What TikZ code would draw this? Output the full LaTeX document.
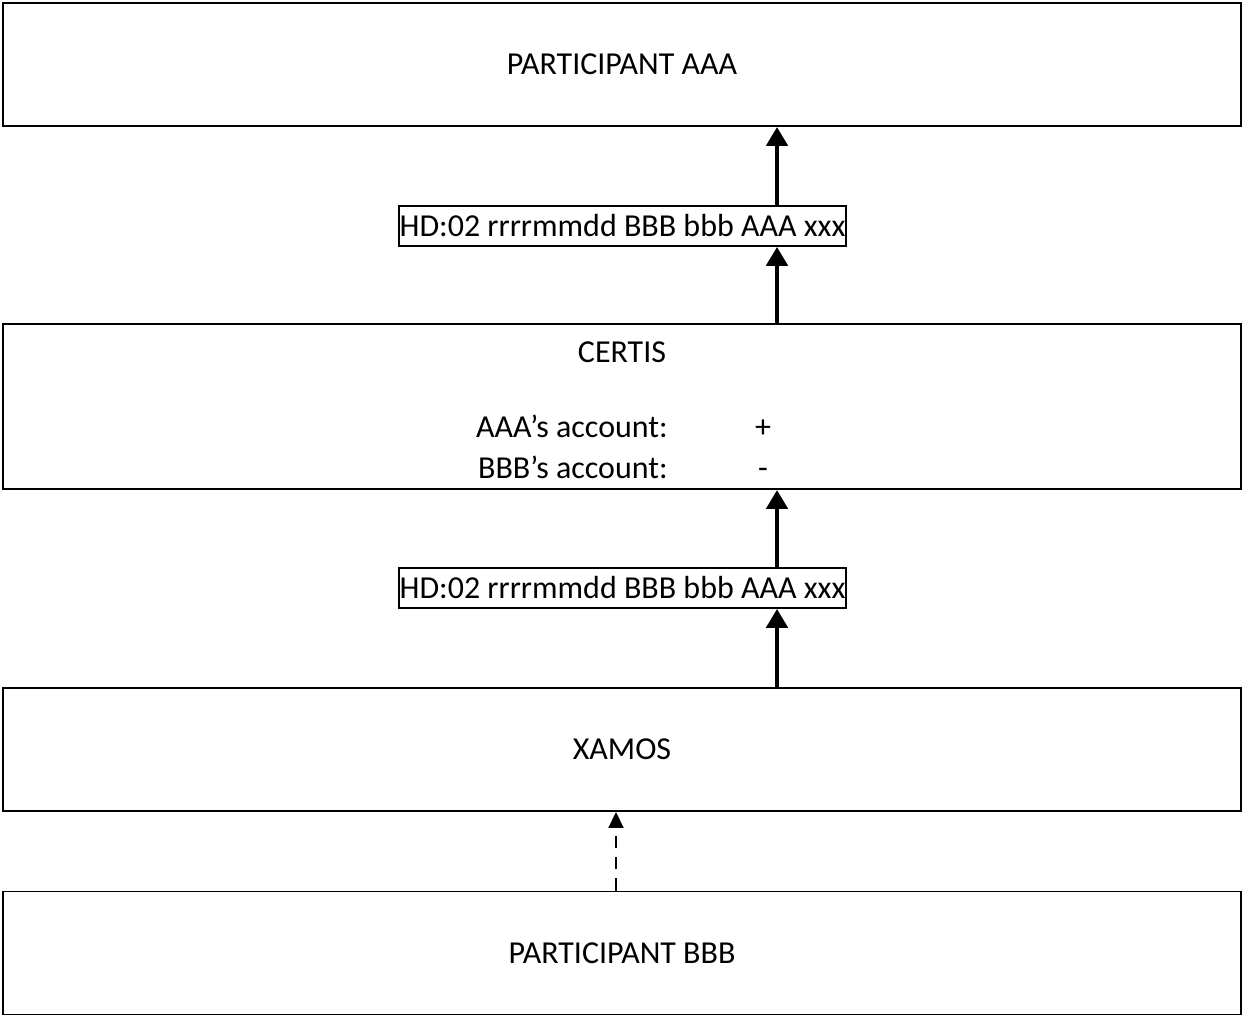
\documentclass[tikz,border=0pt]{standalone}
\usepackage{fontspec}
\setmainfont{Carlito}
\usepackage{tikz}
\usetikzlibrary{arrows.meta}

\tikzset{
  bigbox/.style={draw, line width=1.1pt, minimum width=24.76cm, minimum height=2.46cm, inner sep=0pt},
  msgbox/.style={draw, line width=1pt, minimum width=8.94cm, minimum height=0.8cm, inner sep=0pt},
  flow/.style={line width=2.8pt, -{Triangle[width=0.42cm, length=0.38cm]}},
  weak/.style={line width=1.1pt, dash pattern=on 7pt off 5pt, -{Triangle[width=0.3cm, length=0.32cm]}}
}

\begin{document}
\begin{tikzpicture}[font=\fontsize{18.2}{22}\selectfont]
\useasboundingbox (0,0) rectangle (24.84,20.32);

% Boxes
\node[bigbox] (aaa) at (12.44,19.03) {PARTICIPANT AAA};
\node[bigbox, minimum height=3.3cm] (certis) at (12.44,12.19) {};
\node[bigbox] (xamos) at (12.44,5.33) {XAMOS};
\node[bigbox] (bbb) at (12.44,1.26) {PARTICIPANT BBB};

% Text inside CERTIS
\node[anchor=base] (ctitle) at (12.44,13.06) {CERTIS};
\node[anchor=base east, inner xsep=0pt] (acca) at (13.36,11.56) {AAA’s account:};
\node[anchor=base east, inner xsep=0pt] (accb) at (13.36,10.74) {BBB’s account:};
\node[anchor=base] (plus) at (15.26,11.56) {+};
\node[anchor=base] (minus) at (15.26,10.74) {-};

% Messages
\node[msgbox] (msg1) at (12.45,15.8) {HD:02 rrrrmmdd BBB bbb AAA xxx};
\node[msgbox] (msg2) at (12.45,8.56) {HD:02 rrrrmmdd BBB bbb AAA xxx};

% Arrows
\coordinate (ax) at (15.54,0);
\coordinate (dx) at (12.32,0);
\draw[flow] (msg1.north -| ax) -- (aaa.south -| ax);
\draw[flow] (certis.north -| ax) -- (msg1.south -| ax);
\draw[flow] (msg2.north -| ax) -- (certis.south -| ax);
\draw[flow] (xamos.north -| ax) -- (msg2.south -| ax);
\draw[weak] (bbb.north -| dx) -- (xamos.south -| dx);

\end{tikzpicture}
\end{document}
